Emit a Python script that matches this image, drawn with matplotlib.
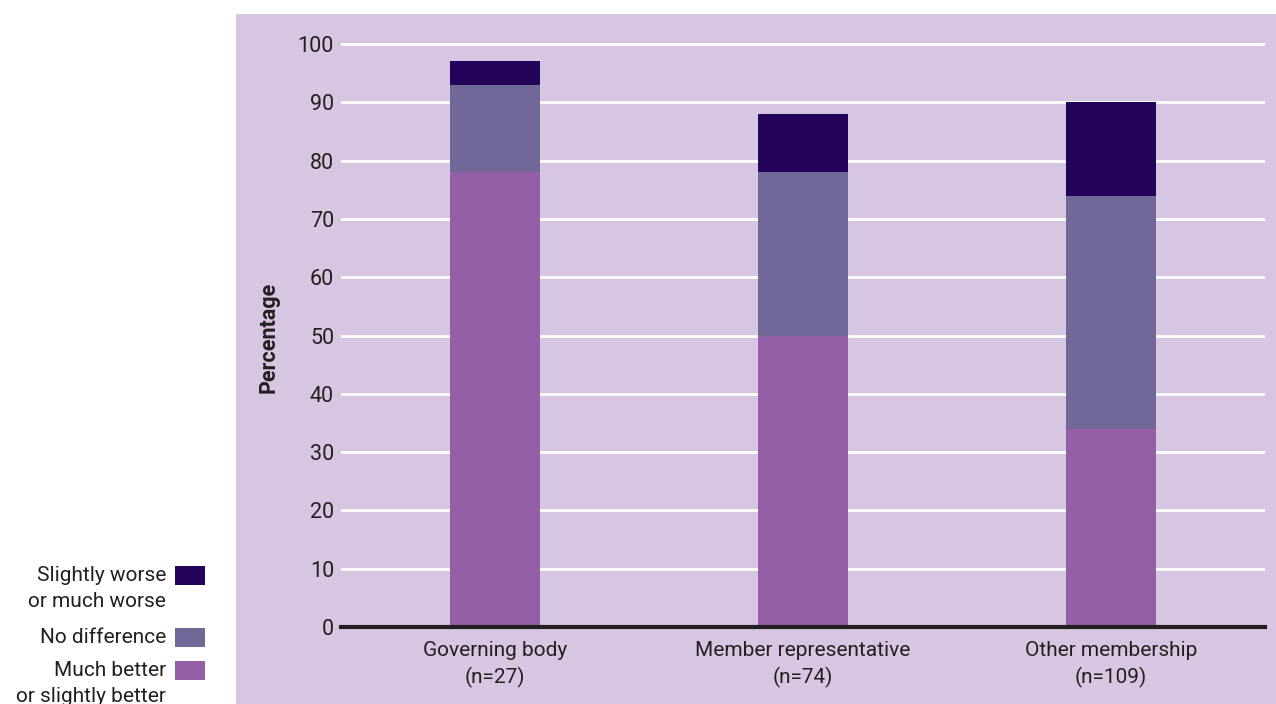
import matplotlib.pyplot as plt
from matplotlib.patches import Rectangle
import numpy as np

categories = ["Governing body\n(n=27)", "Member representative\n(n=74)", "Other membership\n(n=109)"]
better = [78, 50, 34]
no_diff = [15, 28, 40]
worse = [4, 10, 16]
series_labels = ["Much better\nor slightly better", "No difference", "Slightly worse\nor much worse"]
yticks = [0, 10, 20, 30, 40, 50, 60, 70, 80, 90, 100]

c_better = "#955fa8"
c_nodiff = "#716898"
c_worse = "#24035a"
bg = "#d7c6e1"
txt = "#231f20"

plt.rcParams['font.family'] = ['Roboto', 'DejaVu Sans']

W, H = 1276, 704
fig = plt.figure(figsize=(W / 100, H / 100), dpi=100)
fig.patch.set_facecolor("white")

# panel behind the plot
fig.patches.append(Rectangle((236 / W, 0), 1 - 236 / W, 1 - 14 / H,
                             transform=fig.transFigure, facecolor=bg,
                             edgecolor="none", zorder=-10))

ymax = 102
px_unit = (627 - 44) / 100
top_px = 627 - ymax * px_unit
ax = fig.add_axes([341 / W, (H - 627) / H, (1265 - 341) / W, (627 - top_px) / H])
ax.set_facecolor("none")

x = np.arange(len(categories))
bw = 0.295
b1 = np.array(better)
b2 = b1 + np.array(no_diff)
ax.bar(x, better, bw, color=c_better, zorder=3)
ax.bar(x, no_diff, bw, bottom=b1, color=c_nodiff, zorder=3)
ax.bar(x, worse, bw, bottom=b2, color=c_worse, zorder=3)

ax.set_xlim(-0.5, 2.5)
ax.set_ylim(0, ymax)
ax.set_yticks(yticks)
ax.set_xticks(x)
ax.set_xticklabels(categories, fontsize=15, color=txt, linespacing=1.4)
ax.tick_params(axis="y", length=0, pad=5, labelsize=15.5, labelcolor=txt)
ax.tick_params(axis="x", length=0, pad=10)

for v in yticks[1:]:
    ax.axhline(v, color="white", lw=2, zorder=1)
ax.axhline(0, color=txt, lw=3, zorder=4, clip_on=False)
for s in ax.spines.values():
    s.set_visible(False)

ax.set_ylabel("Percentage", fontsize=15.5, fontweight="bold", color=txt)
ax.yaxis.set_label_coords(-0.066, (627 - 337) / (627 - top_px))

# legend drawn by hand: text right-aligned, box on the right
leg = [(series_labels[2], c_worse, 575), (series_labels[1], c_nodiff, 637), (series_labels[0], c_better, 670)]
for lab, col, yc in leg:
    fig.patches.append(Rectangle((175 / W, (H - yc - 9.5) / H), 30 / W, 19 / H,
                                 transform=fig.transFigure, facecolor=col, edgecolor="none"))
    fig.text(166 / W, (H - yc + 9) / H, lab, ha="right", va="top", fontsize=15,
             color=txt, linespacing=1.45, multialignment="right")

fig.savefig("out.png", dpi=100)
